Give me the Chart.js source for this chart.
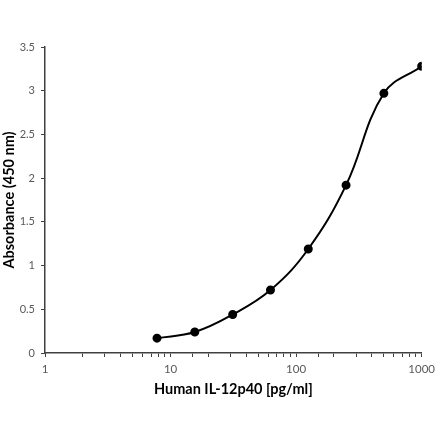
<!DOCTYPE html>
<html>
<head>
<meta charset="utf-8">
<script src="https://cdn.jsdelivr.net/npm/chart.js@4"></script>
<style>
html,body{margin:0;padding:0;background:#fff;}
#wrap{width:440px;height:441px;}
</style>
</head>
<body>
<div id="wrap"><canvas id="c" width="440" height="441"></canvas></div>
<script>
const concentrations = [7.8, 15.6, 31.25, 62.5, 125, 250, 500, 1000];
const absorbance = [0.17, 0.24, 0.44, 0.72, 1.19, 1.92, 2.97, 3.28];
const xTickLabels = [1, 10, 100, 1000];
const yTickValues = [0, 0.5, 1, 1.5, 2, 2.5, 3, 3.5];

const points = concentrations.map((c, i) => ({x: c, y: absorbance[i]}));
const FONT = 'Lato, "Open Sans", sans-serif';

new Chart(document.getElementById('c'), {
  type: 'line',
  data: {
    datasets: [{
      data: points,
      borderColor: '#000',
      backgroundColor: '#000',
      borderWidth: 2,
      pointRadius: 3.5,
      pointHoverRadius: 3.5,
      tension: 0.4,
      fill: false
    }]
  },
  options: {
    responsive: false,
    animation: false,
    devicePixelRatio: 1,
    layout: {padding: {left: 0, top: 47, right: 17, bottom: 39}},
    plugins: {legend: {display: false}, tooltip: {enabled: false}},
    scales: {
      x: {
        type: 'logarithmic',
        min: 1, max: 1000,
        afterFit: s => { s.height = 49; },
        border: {color: '#404040', width: 1.5},
        grid: {drawOnChartArea: false, drawTicks: true, tickLength: 4, color: '#404040'},
        ticks: {
          autoSkip: false, maxRotation: 0, padding: 5,
          color: '#595959', font: {family: FONT, size: 11.5},
          callback: v => xTickLabels.includes(v) ? String(v) : ''
        },
        title: {display: true, text: 'Human IL-12p40 [pg/ml]', color: '#000',
                font: {family: FONT, size: 14.5, weight: 'bold'}, padding: {top: 2, bottom: 4}}
      },
      y: {
        min: 0, max: 3.5,
        afterFit: s => { s.width = 45; },
        afterBuildTicks: s => { s.ticks = yTickValues.map(v => ({value: v})); },
        border: {color: '#404040', width: 1.5},
        grid: {drawOnChartArea: false, drawTicks: true, tickLength: 4, color: '#404040'},
        ticks: {
          padding: 6, color: '#595959', font: {family: FONT, size: 11},
          callback: v => String(v)
        },
        title: {display: true, text: 'Absorbance (450 nm)', color: '#000',
                font: {family: FONT, size: 14.5, weight: 'bold'}, padding: {top: 1, bottom: 2}}
      }
    }
  }
});
</script>
</body>
</html>
